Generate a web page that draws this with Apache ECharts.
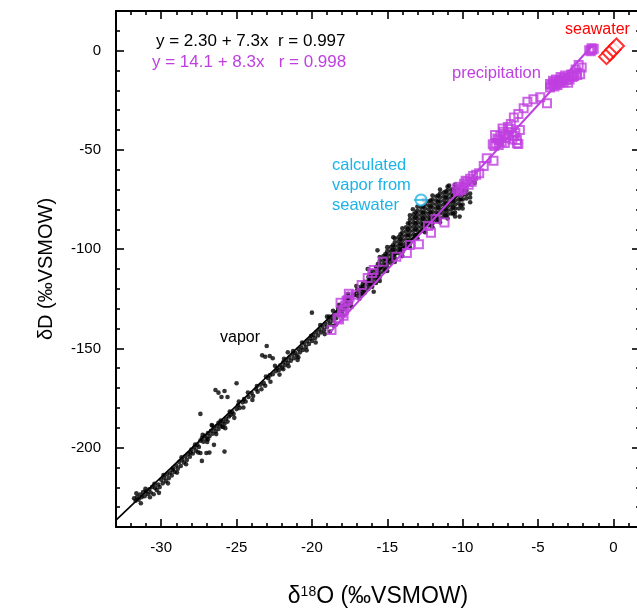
<!DOCTYPE html>
<html><head><meta charset="utf-8">
<script src="https://cdn.jsdelivr.net/npm/echarts@6/dist/echarts.min.js"></script>
<style>html,body{margin:0;padding:0;background:#fff}#c{width:637px;height:608px}</style>
</head><body><div id="c"></div>
<script>
// ---- data ----
const xMajorTicks = [-30, -25, -20, -15, -10, -5, 0];
const yMajorTicks = [0, -50, -100, -150, -200];
const xMinorTicks = [-33,-32,-31,-29,-28,-27,-26,-24,-23,-22,-21,-19,-18,-17,-16,-14,-13,-12,-11,-9,-8,-7,-6,-4,-3,-2,-1,1];
const yMinorTicks = [10,-10,-20,-30,-40,-60,-70,-80,-90,-110,-120,-130,-140,-160,-170,-180,-190,-210,-220,-230];

const vapor = [
 [-31.8,-225.5],[-31.7,-226.8],[-31.6,-224.9],[-31.5,-226.2],[-31.4,-223.6],[-31.3,-225.0],[-31.2,-222.4],[-31.1,-224.5],
 [-31.0,-222.1],[-30.9,-223.4],[-30.8,-221.0],[-30.7,-222.6],[-30.6,-219.8],[-30.5,-223.5],[-30.4,-220.3],[-30.3,-221.3],
 [-30.2,-218.6],[-30.1,-219.9],[-30.0,-216.2],[-29.9,-218.0],[-29.8,-215.1],[-29.7,-216.8],[-29.6,-213.5],[-29.5,-215.4],
 [-29.4,-212.6],[-29.3,-214.0],[-29.2,-210.5],[-29.1,-212.3],[-29.0,-209.0],[-28.9,-210.6],[-28.8,-207.2],[-28.7,-209.3],
 [-28.6,-206.1],[-28.5,-207.5],[-28.4,-204.4],[-28.3,-206.2],[-28.2,-203.1],[-28.1,-204.6],[-28.0,-201.0],[-27.9,-203.0],
 [-27.8,-199.8],[-27.7,-201.5],[-27.6,-198.6],[-27.5,-199.7],
 [-31.65,-223.0],[-31.35,-228.0],[-31.05,-220.8],[-30.75,-225.0],[-30.45,-218.2],[-30.15,-222.8],[-29.85,-213.8],[-29.55,-218.0],
 [-29.25,-211.2],[-28.95,-212.6],[-28.65,-204.9],[-28.35,-208.4],[-28.05,-202.5],[-27.75,-198.4],[-27.55,-202.4],
 [-27.4,-196.5],[-27.3,-195.2],[-27.2,-197.0],[-27.1,-194.0],[-27.0,-195.5],[-26.9,-192.6],[-26.8,-194.3],[-26.7,-191.5],
 [-26.6,-193.0],[-26.5,-190.2],[-26.4,-191.8],[-26.3,-189.0],[-26.2,-190.6],[-26.1,-188.2],[-26.0,-189.3],[-25.9,-186.8],
 [-25.8,-188.0],[-25.7,-185.4],[-25.6,-186.9],[-25.5,-184.3],[-26.6,-189.0],[-26.9,-195.8],[-26.2,-187.5],[-25.9,-189.6],
 [-27.25,-193.6],[-26.95,-197.2],[-26.65,-188.6],[-26.35,-193.2],[-26.05,-186.4],[-25.75,-190.2],
 [-27.4,-183.0],[-27.4,-202.7],[-27.0,-202.7],[-26.8,-202.5],[-27.3,-206.7],[-26.5,-198.6],[-25.8,-202.0],
 [-25.4,-183.5],[-25.3,-182.0],[-25.2,-183.0],[-25.0,-180.6],[-24.9,-178.5],[-24.8,-180.0],[-24.6,-177.2],[-24.5,-175.5],
 [-24.4,-176.8],[-24.2,-174.5],[-24.0,-172.5],[-23.9,-174.0],[-23.7,-170.6],[-23.6,-171.8],[-23.4,-168.3],[-23.2,-167.5],
 [-23.1,-168.8],[-22.9,-165.0],[-22.8,-163.6],[-22.6,-163.0],
 [-25.45,-181.8],[-25.15,-185.0],[-24.85,-176.8],[-24.55,-179.8],[-24.25,-172.2],[-23.95,-176.0],[-23.65,-169.0],
 [-23.35,-170.6],[-23.05,-164.2],[-22.75,-166.8],
 [-25.0,-167.6],[-26.4,-171.0],[-26.2,-172.3],[-26.0,-174.5],[-25.8,-171.5],[-25.6,-174.5],
 [-23.0,-148.8],[-23.3,-153.5],[-23.1,-154.2],[-22.8,-153.8],[-22.6,-155.0],
 [-22.4,-161.5],[-22.3,-160.0],[-22.2,-161.0],[-22.1,-158.6],[-22.0,-159.8],[-21.9,-157.0],[-21.8,-158.5],[-21.7,-155.9],
 [-21.6,-157.4],[-21.5,-154.6],[-21.4,-156.2],[-21.3,-153.1],[-21.2,-155.0],[-21.1,-152.3],[-21.0,-153.6],[-20.9,-150.4],
 [-20.8,-152.0],[-20.7,-149.5],[-20.6,-150.8],[-20.5,-147.6],[-20.4,-149.3],[-20.3,-146.2],[-20.2,-147.8],[-20.1,-145.0],
 [-20.0,-146.3],[-19.9,-143.2],[-19.8,-144.9],[-19.7,-141.8],[-19.6,-143.5],[-21.6,-152.0],[-21.9,-160.5],[-20.9,-154.5],
 [-22.45,-158.8],[-22.15,-163.2],[-21.85,-155.2],[-21.55,-159.0],[-21.25,-151.4],[-20.95,-155.8],[-20.65,-147.0],
 [-20.35,-151.0],[-20.05,-143.6],[-19.75,-147.0],
 [-20.0,-132.0],
 [-19.5,-140.5],[-19.4,-142.0],[-19.3,-139.0],[-19.2,-140.8],[-19.1,-137.6],[-19.0,-139.2],[-18.9,-135.9],[-18.8,-137.5],
 [-18.7,-134.6],[-18.6,-136.0],[-18.5,-133.0],[-18.4,-134.8],[-18.3,-131.5],[-18.2,-133.2],[-18.1,-130.0],[-18.0,-131.6],
 [-17.9,-128.4],[-17.8,-130.0],[-17.7,-126.8],[-17.6,-128.5],[-17.5,-125.4],[-17.4,-127.0],[-19.0,-134.0],[-18.6,-131.0],
 [-18.2,-128.0],[-17.8,-124.9],[-18.8,-141.5],[-18.4,-138.0],[-17.6,-122.5],[-17.3,-123.5],
 [-19.45,-138.2],[-19.15,-142.8],[-18.85,-134.0],[-18.55,-138.6],[-18.25,-129.8],[-17.95,-133.4],[-17.65,-124.6],
 [-17.35,-129.0],[-17.05,-118.6],[-16.85,-125.0],
 [-17.2,-123.0],[-17.0,-120.5],[-17.0,-123.5],[-16.9,-122.0],
 [-16.75,-119],[-16.75,-121],[-16.75,-123],
 [-16.625,-117.5],[-16.625,-120],[-16.625,-122.5],
 [-16.5,-116.5],[-16.5,-118.5],[-16.5,-120.5],[-16.5,-122],
 [-16.25,-114],[-16.25,-116],[-16.25,-118],[-16.25,-120],
 [-16.125,-112.5],[-16.125,-115],[-16.125,-117.5],
 [-16.0,-111],[-16.0,-113],[-16.0,-115],[-16.0,-117],[-16.0,-119],
 [-15.75,-109],[-15.75,-111],[-15.75,-113],[-15.75,-115],[-15.75,-117],
 [-15.625,-107.5],[-15.625,-110],[-15.625,-112.5],[-15.625,-115],
 [-15.5,-104],[-15.5,-106],[-15.5,-108],[-15.5,-110],[-15.5,-112],[-15.5,-114],[-15.5,-116],
 [-15.25,-103.5],[-15.25,-105.5],[-15.25,-107.5],[-15.25,-109.5],[-15.25,-111.5],
 [-15.125,-102.5],[-15.125,-105],[-15.125,-108],[-15.125,-110.5],
 [-15.0,-99],[-15.0,-101],[-15.0,-103],[-15.0,-105],[-15.0,-107],[-15.0,-109],[-15.0,-111],
 [-14.75,-99],[-14.75,-101],[-14.75,-103],[-14.75,-105],[-14.75,-107],
 [-14.625,-98],[-14.625,-100.5],[-14.625,-103],[-14.625,-105.5],
 [-14.5,-94.5],[-14.5,-96.5],[-14.5,-98.5],[-14.5,-100.5],[-14.5,-102.5],[-14.5,-104.5],[-14.5,-106.5],
 [-14.25,-94],[-14.25,-96],[-14.25,-98],[-14.25,-100],[-14.25,-102],
 [-14.125,-92.5],[-14.125,-95],[-14.125,-97.5],[-14.125,-100],
 [-14.0,-89.5],[-14.0,-91.5],[-14.0,-93.5],[-14.0,-95.5],[-14.0,-97.5],[-14.0,-99.5],[-14.0,-101.5],[-14.0,-103.5],
 [-13.75,-89],[-13.75,-91],[-13.75,-93],[-13.75,-95],[-13.75,-97],[-13.75,-99],
 [-13.625,-87],[-13.625,-90],[-13.625,-93],[-13.625,-96],[-13.625,-98.5],
 [-13.5,-83],[-13.5,-85],[-13.5,-87],[-13.5,-89],[-13.5,-91],[-13.5,-93],[-13.5,-95],[-13.5,-97],[-13.5,-99],
 [-13.25,-82.5],[-13.25,-84.5],[-13.25,-86.5],[-13.25,-88.5],[-13.25,-90.5],[-13.25,-92.5],[-13.25,-94.5],
 [-13.125,-81.5],[-13.125,-84],[-13.125,-87],[-13.125,-90],[-13.125,-93],
 [-13.0,-78.5],[-13.0,-80.5],[-13.0,-82.5],[-13.0,-84.5],[-13.0,-86.5],[-13.0,-88.5],[-13.0,-90.5],[-13.0,-92.5],[-13.0,-94.5],
 [-12.75,-79],[-12.75,-81],[-12.75,-83],[-12.75,-85],[-12.75,-87],[-12.75,-89],[-12.75,-91],
 [-12.625,-78.5],[-12.625,-81.5],[-12.625,-84.5],[-12.625,-87.5],[-12.625,-90.5],
 [-12.5,-75.5],[-12.5,-77.5],[-12.5,-79.5],[-12.5,-81.5],[-12.5,-83.5],[-12.5,-85.5],[-12.5,-87.5],[-12.5,-89.5],[-12.5,-91.5],
 [-12.25,-76],[-12.25,-78],[-12.25,-80],[-12.25,-82],[-12.25,-84],[-12.25,-86],[-12.25,-88],
 [-12.125,-75.5],[-12.125,-78.5],[-12.125,-81.5],[-12.125,-84.5],[-12.125,-87.5],
 [-12.0,-73],[-12.0,-75],[-12.0,-77],[-12.0,-79],[-12.0,-81],[-12.0,-83],[-12.0,-85],[-12.0,-87],[-12.0,-89],
 [-11.75,-73.5],[-11.75,-75.5],[-11.75,-77.5],[-11.75,-79.5],[-11.75,-81.5],[-11.75,-83.5],[-11.75,-85.5],
 [-11.625,-73],[-11.625,-76],[-11.625,-79],[-11.625,-82],[-11.625,-85],
 [-11.5,-70],[-11.5,-72],[-11.5,-74],[-11.5,-76],[-11.5,-78],[-11.5,-80],[-11.5,-82],[-11.5,-84.5],[-11.5,-86.5],
 [-11.25,-71.5],[-11.25,-73.5],[-11.25,-75.5],[-11.25,-77.5],[-11.25,-79.5],[-11.25,-81.5],[-11.25,-83.5],
 [-11.125,-71],[-11.125,-74],[-11.125,-77],[-11.125,-80],[-11.125,-83],
 [-11.0,-68.5],[-11.0,-70.5],[-11.0,-72.5],[-11.0,-74.5],[-11.0,-76.5],[-11.0,-78.5],[-11.0,-80.5],[-11.0,-82.5],[-11.0,-84.5],
 [-10.75,-70],[-10.75,-72],[-10.75,-74],[-10.75,-76],[-10.75,-78],[-10.75,-80],[-10.75,-82],
 [-10.625,-70],[-10.625,-73],[-10.625,-76],[-10.625,-79],[-10.625,-82],
 [-10.5,-67.5],[-10.5,-69.5],[-10.5,-71.5],[-10.5,-73.5],[-10.5,-75.5],[-10.5,-77.5],[-10.5,-79.5],[-10.5,-81.5],[-10.5,-83.5],
 [-10.25,-69],[-10.25,-71],[-10.25,-73],[-10.25,-75],[-10.25,-77],[-10.25,-79.5],
 [-10.125,-69.5],[-10.125,-72],[-10.125,-75],[-10.125,-78],
 [-10.0,-67],[-10.0,-69],[-10.0,-71],[-10.0,-73],[-10.0,-75],[-10.0,-77.5],[-10.0,-79.5],
 [-9.75,-70.5],[-9.75,-72.5],[-9.75,-74.5],[-9.5,-72],[-9.5,-74],
 [-13.3,-79.9],[-10.9,-68.0],[-9.5,-76.4],[-10.2,-83.6],[-15.65,-100.6],[-14.6,-94],[-16.3,-110],[-12.6,-75.2],[-9.2,-66.5],[-15.9,-121.5]
];

const precipitation = [
 [-1.4,0.5],[-1.5,-0.3],[-1.3,1.0],[-1.6,0.2],[-1.45,1.2],
 [-2.3,-7.2],[-2.2,-11.9],[-2.5,-9.5],[-2.8,-12.0],[-3.0,-13.5],[-3.2,-12.5],[-3.4,-14.5],[-3.6,-15.0],[-3.7,-17.3],
 [-3.9,-15.8],[-4.0,-16.5],[-2.6,-12.8],[-3.3,-16.0],[-2.9,-14.5],[-4.1,-17.5],[-3.5,-13.2],[-2.45,-11.0],[-3.8,-16.9],
 [-2.7,-13.2],[-3.1,-14.8],[-3.3,-13.8],[-3.6,-16.2],[-3.8,-14.5],[-4.0,-15.2],[-4.2,-16.8],[-2.4,-12.2],[-2.1,-8.5],
 [-3.9,-18.0],[-3.45,-15.5],[-4.2,-18.5],[-3.0,-16.2],
 [-4.4,-26.5],[-4.85,-23.5],[-5.3,-24.5],[-5.7,-25.7],[-5.95,-29],[-6.3,-31.9],[-6.6,-33.6],
 [-6.2,-40],[-6.4,-45],[-6.3,-47],[-6.4,-46.7],[-7.3,-40.8],[-7.8,-46.7],[-7.0,-38.5],[-6.8,-37],[-7.5,-43],[-7.6,-45],
 [-7.2,-42],[-6.9,-39.5],[-7.1,-44],[-7.9,-48],[-6.6,-43],
 [-7.7,-44.2],[-7.4,-45.8],[-7.6,-47.5],[-7.2,-46.5],[-6.95,-42.5],[-7.35,-39.2],[-6.5,-41.5],[-6.7,-44.8],[-7.85,-42.5],[-8.0,-47.2],
 [-7.95,-55.4],[-8.4,-54.2],[-8.6,-58.1],[-8.9,-61.8],[-9.3,-63.1],[-9.7,-66],[-10.2,-68.5],[-10.3,-71],[-9.5,-64.5],
 [-9.9,-67],[-10.0,-69.5],[-9.1,-62.5],[-9.6,-67.6],[-9.8,-65.5],[-10.1,-70.2],[-9.4,-66],[-10.4,-69.5],
 [-11.8,-84.8],[-11.2,-86.6],[-12.3,-88.3],[-12.1,-91.7],[-12.9,-97.5],[-13.5,-97.9],[-13.7,-102],[-14.4,-103.8],
 [-15.3,-106.4],[-15.9,-110.5],[-16.3,-114.5],[-16.7,-118],[-17.1,-123],[-17.6,-125.6],[-17.9,-130.6],[-18.3,-134.7],
 [-18.7,-140.7],[-18.1,-127],[-17.5,-124],[-16.0,-112],
 [-17.8,-128.5],[-17.7,-126],[-18.0,-132],[-17.55,-122.5],[-18.2,-135.5],[-17.9,-133.5]
];

const seawater = [[-0.45,-3.0],[-0.23,-1.2],[-0.01,0.6],[0.21,2.4]];
const calcVapor = [[-12.76,-75.2]];
const vaporFit = [[-33,-236.5],[-9,-63.4]];          // y = 2.30 + 7.3x
const precipFit = [[-18.8,-141.9],[-1.4,2.5]];       // y = 14.1 + 8.3x

// ---- chart ----
const PURPLE = '#bf3fe0', CYAN = '#1db3e8', RED = '#ff0000';
const FONT = '"Liberation Sans", Arial, sans-serif';
const XMIN = -33, XMAX = 1.77, YMIN = -240, YMAX = 20;

function xAx(pos, ticks, len, showLine, labels) {
  return {
    type: 'value', position: pos, min: XMIN, max: XMAX, gridIndex: 0,
    splitLine: {show: false},
    axisLine: {show: showLine, onZero: false, lineStyle: {color: '#000', width: 2}},
    axisTick: {show: true, inside: true, length: len, customValues: ticks, lineStyle: {color: '#000', width: 1.6}},
    axisLabel: labels ? {show: true, customValues: ticks, margin: 13, color: '#000', fontSize: 15, fontFamily: FONT} : {show: false}
  };
}
function yAx(pos, ticks, len, showLine, labels) {
  return {
    type: 'value', position: pos, min: YMIN, max: YMAX, gridIndex: 0,
    splitLine: {show: false},
    axisLine: {show: showLine, onZero: false, lineStyle: {color: '#000', width: 2}},
    axisTick: {show: true, inside: true, length: len, customValues: ticks, lineStyle: {color: '#000', width: 1.6}},
    axisLabel: labels ? {show: true, customValues: ticks, margin: 15, color: '#000', fontSize: 15, fontFamily: FONT} : {show: false}
  };
}

const xBottom = xAx('bottom', xMajorTicks, 8, true, true);
xBottom.name = '{a|δ}{s|18}{a|O (‰VSMOW)}';
xBottom.nameLocation = 'middle';
xBottom.nameGap = 58;
xBottom.nameTextStyle = {rich: {a: {fontSize: 23, fontFamily: FONT, color: '#000'}, s: {fontSize: 14, fontFamily: FONT, color: '#000', verticalAlign: 'top', padding: [0,0,9,0]}}};

const yLeft = yAx('left', yMajorTicks, 8, true, true);
yLeft.name = 'δD (‰VSMOW)';
yLeft.nameLocation = 'middle';
yLeft.nameGap = 60;
yLeft.nameTextStyle = {fontSize: 20, fontFamily: FONT, color: '#000'};

const option = {
  animation: false,
  backgroundColor: '#fff',
  grid: {left: 116, right: -3, top: 11, bottom: 81, containLabel: false, outerBoundsMode: 'none'},
  xAxis: [xBottom, xAx('bottom', xMinorTicks, 4, false, false), xAx('top', xMajorTicks, 8, true, false), xAx('top', xMinorTicks, 4, false, false)],
  yAxis: [yLeft, yAx('left', yMinorTicks, 4, false, false), yAx('right', yMajorTicks, 8, true, false), yAx('right', yMinorTicks, 4, false, false)],
  series: [
    {type: 'scatter', data: vapor, symbol: 'circle', symbolSize: 4.6, itemStyle: {color: '#000'}, z: 2},
    {type: 'line', data: vaporFit, symbol: 'none', lineStyle: {color: '#000', width: 1.6}, z: 3},
    {type: 'scatter', data: precipitation, symbol: 'rect', symbolSize: 8,
     itemStyle: {color: 'rgba(255,255,255,0)', borderColor: PURPLE, borderWidth: 2}, z: 4},
    {type: 'line', data: precipFit, symbol: 'none', lineStyle: {color: PURPLE, width: 2}, z: 5},
    {type: 'scatter', data: seawater, symbol: 'diamond', symbolSize: 15,
     itemStyle: {color: '#fff', borderColor: RED, borderWidth: 2}, z: 6},
    {type: 'scatter', data: calcVapor, symbol: 'circle', symbolSize: 11,
     itemStyle: {color: '#fff', borderColor: CYAN, borderWidth: 2}, z: 7},
    {type: 'scatter', data: calcVapor, symbol: 'rect', symbolSize: [14, 2], itemStyle: {color: CYAN}, z: 8}
  ],
  graphic: [
    {type: 'text', left: 156, top: 33, style: {text: 'y = 2.30 + 7.3x  r = 0.997', fill: '#000', font: '17px ' + FONT}},
    {type: 'text', left: 152, top: 54, style: {text: 'y = 14.1 + 8.3x   r = 0.998', fill: PURPLE, font: '17px ' + FONT}},
    {type: 'text', left: 565, top: 22, style: {text: 'seawater', fill: RED, font: '16px ' + FONT}},
    {type: 'text', left: 452, top: 65, style: {text: 'precipitation', fill: PURPLE, font: '16.5px ' + FONT}},
    {type: 'text', left: 332, top: 155, style: {text: 'calculated\nvapor from\nseawater', fill: CYAN, font: '16.5px ' + FONT, lineHeight: 20}},
    {type: 'text', left: 220, top: 330, style: {text: 'vapor', fill: '#000', font: '16px ' + FONT}}
  ]
};

const chart = echarts.init(document.getElementById('c'), null, {renderer: 'canvas'});
chart.setOption(option);
</script>
</body></html>
